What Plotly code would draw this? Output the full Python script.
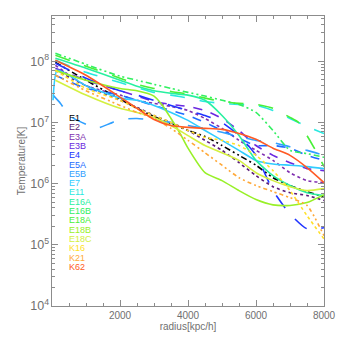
import plotly.graph_objects as go

# Radius grid (kpc/h) shared by most profiles
R = [100, 1000, 2000, 2500, 3000, 3500, 4000, 4500, 5000, 5500, 6000, 6500, 7000, 7500, 8000]

# Temperature profiles (K)
t_e1 = [9.6e7, 4.9e7, 2.4e7, 1.7e7, 1.25e7, 9.6e6, 7.4e6, 5.9e6, 4.2e6, 2.9e6, 2.0e6, 1.25e6, 9.3e5, 7.4e5, 6.1e5]
t_e2 = [7.1e7, 4.0e7, 2.3e7, 1.76e7, 1.3e7, 1.0e7, 7.4e6, 5.1e6, 3.5e6, 2.2e6, 1.35e6, 8.9e5, 7.1e5, 6.4e5, 5.3e5]
t_e3a = [8.6e7, 4.0e7, 2.8e7, 2.3e7, 2.05e7, 1.83e7, 1.57e7, 1.16e7, 8.0e6, 5.1e6, 3.5e6, 2.4e6, 1.51e6, 1.12e6, 1.04e6]
t_e3b = [7.7e7, 4.9e7, 3.3e7, 2.7e7, 2.2e7, 1.97e7, 1.83e7, 1.57e7, 1.16e7, 7.4e6, 4.2e6, 2.9e6, 2.2e6, 1.76e6, 1.63e6]
t_e4 = [9.3e7, 5.3e7, 3.3e7, 2.8e7, 2.3e7, 1.9e7, 1.57e7, 1.3e7, 1.0e7, 6.1e6, 2.9e6, 7.7e5, 3.2e5, 1.83e5, 1.9e5]
t_e5a = [5.9e7, 3.6e7, 2.8e7, 2.3e7, 1.9e7, 1.57e7, 1.3e7, 1.0e7, 7.4e6, 5.5e6, 4.2e6, 4.2e6, 3.8e6, 2.9e6, 2.4e6]
r_e5b = [30, 250, 500, 1000, 1300, 1700, 2000, 2500, 3000, 3500, 4000, 4500, 5000, 5500, 6000, 6500, 7000, 7500, 8000]
t_e5b = [2.8e7, 2.05e7, 1.3e7, 9.3e6, 8.0e6, 9.6e6, 1.12e7, 1.16e7, 1.08e7, 1.0e7, 8.9e6, 8.0e6, 6.9e6, 5.9e6, 5.1e6, 4.7e6, 4.0e6, 3.5e6, 2.9e6]
r_e7 = [30, 150, 500, 1000, 2000, 2500, 3000, 3500, 4000, 4500, 5000, 5500, 6000, 6500, 7000, 7500, 8000]
t_e7 = [2.3e7, 7.1e7, 5.9e7, 4.0e7, 2.5e7, 2.3e7, 1.9e7, 1.46e7, 1.08e7, 7.4e6, 5.1e6, 3.5e6, 2.4e6, 2.1e6, 2.0e6, 1.9e6, 1.76e6]
t_e11 = [1.04e8, 6.6e7, 4.5e7, 3.7e7, 3.1e7, 2.8e7, 2.5e7, 2.2e7, 2.05e7, 1.97e7, 1.9e7, 1.57e7, 1.16e7, 8.6e6, 6.6e6]
t_e16a = [1.12e8, 7.7e7, 4.9e7, 3.9e7, 3.3e7, 3.0e7, 2.8e7, 2.3e7, 1.3e7, 6.1e6, 2.4e6, 1.35e6, 9.3e5, 7.1e5, 6.4e5]
t_e16b = [1.35e8, 8.9e7, 5.7e7, 4.9e7, 4.2e7, 3.6e7, 3.1e7, 2.7e7, 2.3e7, 1.97e7, 1.46e7, 7.4e6, 3.5e6, 3.1e6, 2.7e6]
r_e18a = [100, 1000, 2000, 2500, 3000, 3500, 4000, 4500, 5000, 5500, 6000, 6500, 7000, 7250, 7500, 7750, 8000]
t_e18a = [1.25e8, 8.3e7, 5.3e7, 4.2e7, 3.6e7, 3.2e7, 2.9e7, 2.5e7, 2.2e7, 2.05e7, 1.97e7, 1.7e7, 1.21e7, 1.0e7, 6.1e6, 3.5e6, 1.9e6]
r_e18b = [100, 1000, 2000, 2500, 3000, 3250, 3500, 3750, 4000, 4500, 5000, 5500, 6000, 6500, 7000, 7500, 8000]
t_e18b = [7.1e7, 4.9e7, 3.6e7, 3.3e7, 2.7e7, 1.9e7, 1.16e7, 6.9e6, 3.8e6, 1.51e6, 1.12e6, 7.7e5, 5.5e5, 4.5e5, 4.4e5, 4.9e5, 6.6e5]
t_e18c = [4.9e7, 2.8e7, 1.7e7, 1.46e7, 1.21e7, 8.9e6, 6.1e6, 4.2e6, 3.2e6, 2.4e6, 1.51e6, 1.12e6, 8.9e5, 7.7e5, 8.3e5]
t_k16 = [7.1e7, 3.6e7, 2.3e7, 1.7e7, 1.3e7, 1.0e7, 7.4e6, 5.7e6, 5.1e6, 4.2e6, 2.9e6, 1.63e6, 7.7e5, 3.0e5, 1.25e5]
t_k21 = [5.9e7, 3.3e7, 1.9e7, 1.46e7, 1.16e7, 8.0e6, 5.1e6, 3.2e6, 2.0e6, 1.25e6, 9.3e5, 7.4e5, 5.9e5, 4.4e5, 1.41e5]
t_k62 = [1.04e8, 5.9e7, 2.6e7, 1.7e7, 1.12e7, 8.9e6, 8.3e6, 8.0e6, 7.7e6, 6.6e6, 5.3e6, 3.8e6, 2.9e6, 1.83e6, 1.04e6]

names = ["E1", "E2", "E3A", "E3B", "E4", "E5A", "E5B", "E7", "E11",
         "E16A", "E16B", "E18A", "E18B", "E18C", "K16", "K21", "K62"]
radii = [R, R, R, R, R, R, r_e5b, r_e7, R, R, R, r_e18a, r_e18b, R, R, R, R]
temps = [t_e1, t_e2, t_e3a, t_e3b, t_e4, t_e5a, t_e5b, t_e7, t_e11,
         t_e16a, t_e16b, t_e18a, t_e18b, t_e18c, t_k16, t_k21, t_k62]
colors = ["#000000", "#5a1a78", "#8030b0", "#6a28e0", "#2034ff", "#1e6cff",
          "#30a0ff", "#30ccff", "#28e8e0", "#28f0a0", "#30f060", "#48f038",
          "#98f028", "#d4f040", "#ffe028", "#ffa838", "#ff5a24"]
dashes = ["6px,3px,2px,3px,2px,3px", "dot", "dot", "dash", "longdash", "dash",
          "longdash", "solid", "longdash", "solid", "6px,3px,2px,3px,2px,3px",
          "longdash", "solid", "solid", "dot", "4px,3px,2px,3px,2px,3px", "solid"]

fig = go.Figure()
for r, t, c, d, n in zip(radii, temps, colors, dashes, names):
    fig.add_trace(go.Scatter(x=r, y=t, mode="lines", name=n,
                             line=dict(color=c, width=1.6, dash=d, shape="spline", smoothing=0.6)))

# Colour-coded labels stacked at the left of the plot
for i, (n, c) in enumerate(zip(names, colors)):
    fig.add_annotation(x=0.058, y=(306 - (118 + 9.3 * i)) / 290, xref="paper", yref="paper",
                       text=n, showarrow=False, xanchor="left", yanchor="middle", borderpad=0,
                       font=dict(size=9, color=c, family="Liberation Sans"))

axis_col = "#8c8c8c"
fig.update_layout(
    width=340, height=340,
    margin=dict(l=52, r=16, t=16, b=34),
    paper_bgcolor="white", plot_bgcolor="white",
    showlegend=False,
    font=dict(family="Liberation Sans", size=10, color="#707070"),
    xaxis=dict(range=[0, 8000], tickvals=[2000, 4000, 6000, 8000], automargin=False,
               ticks="inside", ticklen=6, tickcolor=axis_col, showgrid=False, zeroline=False,
               showline=True, linecolor=axis_col, linewidth=1, mirror="allticks",
               minor=dict(dtick=500, ticks="inside", ticklen=3, tickcolor=axis_col),
               title=dict(text="radius[kpc/h]", font=dict(size=10, color="#707070"), standoff=2)),
    yaxis=dict(type="log", range=[4, 8.74], dtick=1, exponentformat="power", showexponent="all",
               automargin=False,
               ticks="inside", ticklen=6, tickcolor=axis_col, showgrid=False, zeroline=False,
               showline=True, linecolor=axis_col, linewidth=1, mirror="allticks",
               minor=dict(ticks="inside", ticklen=3, tickcolor=axis_col, dtick="D1"),
               title=dict(text="Temperature[K]", font=dict(size=10, color="#707070"), standoff=2)),
)

fig.write_html("out.html")
